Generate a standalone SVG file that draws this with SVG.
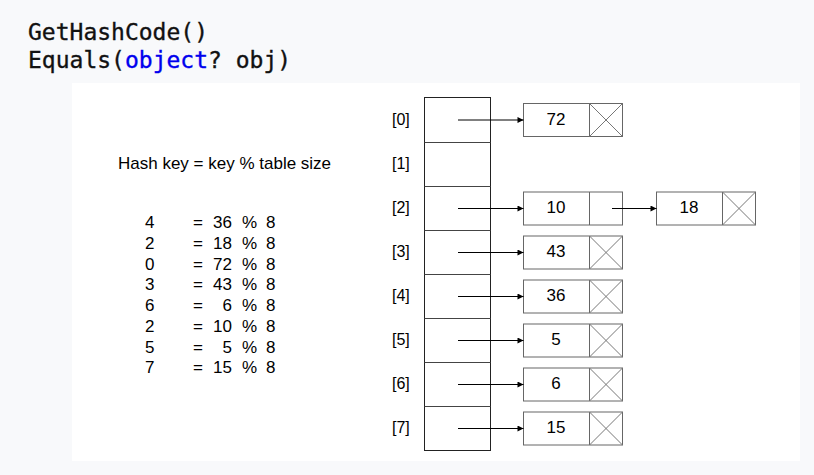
<svg xmlns="http://www.w3.org/2000/svg" width="814" height="475" viewBox="0 0 814 475">
<defs>
<style>
.code{font-family:"DejaVu Sans Mono","Liberation Mono",monospace;font-size:23px;fill:#111;stroke:#111;stroke-width:0.35}
.kw{fill:#0000ee;stroke:#0000ee}
.t{font-family:"Liberation Sans",Arial,sans-serif;font-size:16px;fill:#000}
.n{font-size:17px}
.tb{fill:#fff;stroke:#222;stroke-width:1}
.div{stroke:#444;stroke-width:1}
.box{fill:#fff;stroke:#666;stroke-width:1}
.x{stroke:#777;stroke-width:1}
.con{stroke:#000;stroke-width:1;fill:none;marker-end:url(#ah)}
</style>
<marker id="ah" viewBox="0 0 10 10" refX="10" refY="5" markerWidth="7" markerHeight="6" markerUnits="userSpaceOnUse" orient="auto">
<path d="M0,0 L10,5 L0,10 z" fill="#000"/>
</marker>
</defs>
<rect x="0" y="0" width="814" height="475" fill="#f8f9fb"/>
<g id="code">
<text class="code" x="28" y="40">GetHashCode()</text>
<text class="code" x="28" y="68">Equals(<tspan class="kw">object</tspan>? obj)</text>
</g>
<rect x="72" y="83" width="728" height="378" fill="#fff"/>
<g id="formula">
<text class="t" x="118" y="169" style="font-size:17px">Hash key = key % table size</text>
<g id="calc" class="n">
<text class="t n" x="145" y="228">4</text><text class="t n" x="193" y="228">=</text><text class="t n" x="232" y="228" text-anchor="end">36</text><text class="t n" x="242" y="228">%</text><text class="t n" x="266" y="228">8</text>
<text class="t n" x="145" y="249">2</text><text class="t n" x="193" y="249">=</text><text class="t n" x="232" y="249" text-anchor="end">18</text><text class="t n" x="242" y="249">%</text><text class="t n" x="266" y="249">8</text>
<text class="t n" x="145" y="270">0</text><text class="t n" x="193" y="270">=</text><text class="t n" x="232" y="270" text-anchor="end">72</text><text class="t n" x="242" y="270">%</text><text class="t n" x="266" y="270">8</text>
<text class="t n" x="145" y="290">3</text><text class="t n" x="193" y="290">=</text><text class="t n" x="232" y="290" text-anchor="end">43</text><text class="t n" x="242" y="290">%</text><text class="t n" x="266" y="290">8</text>
<text class="t n" x="145" y="311">6</text><text class="t n" x="193" y="311">=</text><text class="t n" x="232" y="311" text-anchor="end">6</text><text class="t n" x="242" y="311">%</text><text class="t n" x="266" y="311">8</text>
<text class="t n" x="145" y="332">2</text><text class="t n" x="193" y="332">=</text><text class="t n" x="232" y="332" text-anchor="end">10</text><text class="t n" x="242" y="332">%</text><text class="t n" x="266" y="332">8</text>
<text class="t n" x="145" y="353">5</text><text class="t n" x="193" y="353">=</text><text class="t n" x="232" y="353" text-anchor="end">5</text><text class="t n" x="242" y="353">%</text><text class="t n" x="266" y="353">8</text>
<text class="t n" x="145" y="373">7</text><text class="t n" x="193" y="373">=</text><text class="t n" x="232" y="373" text-anchor="end">15</text><text class="t n" x="242" y="373">%</text><text class="t n" x="266" y="373">8</text>
</g>
</g>
<g id="table">
<rect class="tb" x="424.5" y="97.5" width="66" height="353"/>
<line class="div" x1="424.5" y1="142.5" x2="490.5" y2="142.5"/>
<line class="div" x1="424.5" y1="186.5" x2="490.5" y2="186.5"/>
<line class="div" x1="424.5" y1="230.5" x2="490.5" y2="230.5"/>
<line class="div" x1="424.5" y1="274.5" x2="490.5" y2="274.5"/>
<line class="div" x1="424.5" y1="318.5" x2="490.5" y2="318.5"/>
<line class="div" x1="424.5" y1="362.5" x2="490.5" y2="362.5"/>
<line class="div" x1="424.5" y1="406.5" x2="490.5" y2="406.5"/>
<text class="t" x="392" y="124.5">[0]</text>
<text class="t" x="392" y="168.5">[1]</text>
<text class="t" x="392" y="212.5">[2]</text>
<text class="t" x="392" y="256.5">[3]</text>
<text class="t" x="392" y="300.5">[4]</text>
<text class="t" x="392" y="344.5">[5]</text>
<text class="t" x="392" y="388.5">[6]</text>
<text class="t" x="392" y="432.5">[7]</text>
</g>
<g id="node-72">
<rect class="box" x="523.5" y="103.5" width="99" height="33"/>
<line class="box" x1="589.5" y1="103.5" x2="589.5" y2="136.5"/>
<path class="x" d="M589.5,103.5 L622.5,136.5 M622.5,103.5 L589.5,136.5"/>
<text class="t n" x="556" y="124.5" text-anchor="middle">72</text>
</g>
<g id="node-10">
<rect class="box" x="523.5" y="192" width="99" height="33"/>
<line class="box" x1="589.5" y1="192" x2="589.5" y2="225"/>
<text class="t n" x="556" y="213" text-anchor="middle">10</text>
</g>
<g id="node-18">
<rect class="box" x="656.5" y="192" width="99" height="33"/>
<line class="box" x1="722.5" y1="192" x2="722.5" y2="225"/>
<path class="x" d="M722.5,192 L755.5,225 M755.5,192 L722.5,225"/>
<text class="t n" x="689" y="213" text-anchor="middle">18</text>
</g>
<g id="node-43">
<rect class="box" x="523.5" y="236" width="99" height="33"/>
<line class="box" x1="589.5" y1="236" x2="589.5" y2="269"/>
<path class="x" d="M589.5,236 L622.5,269 M622.5,236 L589.5,269"/>
<text class="t n" x="556" y="257" text-anchor="middle">43</text>
</g>
<g id="node-36">
<rect class="box" x="523.5" y="280" width="99" height="33"/>
<line class="box" x1="589.5" y1="280" x2="589.5" y2="313"/>
<path class="x" d="M589.5,280 L622.5,313 M622.5,280 L589.5,313"/>
<text class="t n" x="556" y="301" text-anchor="middle">36</text>
</g>
<g id="node-5">
<rect class="box" x="523.5" y="324" width="99" height="33"/>
<line class="box" x1="589.5" y1="324" x2="589.5" y2="357"/>
<path class="x" d="M589.5,324 L622.5,357 M622.5,324 L589.5,357"/>
<text class="t n" x="556" y="345" text-anchor="middle">5</text>
</g>
<g id="node-6">
<rect class="box" x="523.5" y="368" width="99" height="33"/>
<line class="box" x1="589.5" y1="368" x2="589.5" y2="401"/>
<path class="x" d="M589.5,368 L622.5,401 M622.5,368 L589.5,401"/>
<text class="t n" x="556" y="389" text-anchor="middle">6</text>
</g>
<g id="node-15">
<rect class="box" x="523.5" y="412" width="99" height="33"/>
<line class="box" x1="589.5" y1="412" x2="589.5" y2="445"/>
<path class="x" d="M589.5,412 L622.5,445 M622.5,412 L589.5,445"/>
<text class="t n" x="556" y="433" text-anchor="middle">15</text>
</g>
<g id="connectors">
<line class="con" x1="458" y1="120" x2="523.5" y2="120"/>
<line class="con" x1="458" y1="208.5" x2="523.5" y2="208.5"/>
<line class="con" x1="612" y1="208.5" x2="656.5" y2="208.5"/>
<line class="con" x1="458" y1="252.5" x2="523.5" y2="252.5"/>
<line class="con" x1="458" y1="296.5" x2="523.5" y2="296.5"/>
<line class="con" x1="458" y1="340.5" x2="523.5" y2="340.5"/>
<line class="con" x1="458" y1="384.5" x2="523.5" y2="384.5"/>
<line class="con" x1="458" y1="428.5" x2="523.5" y2="428.5"/>
</g>
</svg>
